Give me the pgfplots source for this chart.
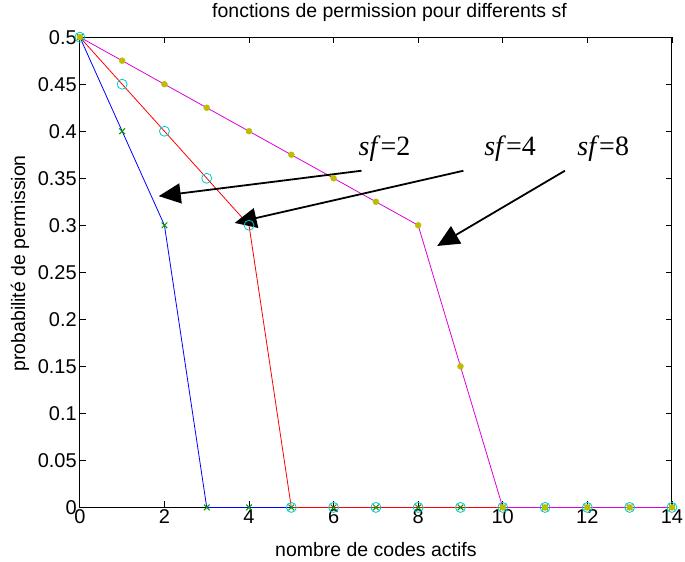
\documentclass[border=0pt]{standalone}
\usepackage{fontspec}
\setmainfont{Liberation Sans}
\newfontfamily\timesfont{Liberation Serif}
\usepackage{pgfplots}
\pgfplotsset{compat=1.18}
\usepackage{pgfplotstable}
\usetikzlibrary{arrows.meta}
\definecolor{mblue}{RGB}{0,0,255}
\definecolor{mred}{RGB}{255,0,0}
\definecolor{mmag}{RGB}{220,0,220}
\definecolor{mcyan}{RGB}{0,200,205}
\definecolor{molive}{RGB}{190,190,0}
\definecolor{mgreen}{RGB}{0,150,0}

\pgfplotstableread{
x y
0 0.5
1 0.4
2 0.3
3 0
4 0
5 0
6 0
7 0
8 0
9 0
10 0
11 0
12 0
13 0
14 0
}\sftwo
\pgfplotstableread{
x y
0 0.5
1 0.45
2 0.4
3 0.35
4 0.3
5 0
6 0
7 0
8 0
9 0
10 0
11 0
12 0
13 0
14 0
}\sffour
\pgfplotstableread{
x y
0 0.5
1 0.475
2 0.45
3 0.425
4 0.4
5 0.375
6 0.35
7 0.325
8 0.3
9 0.15
10 0
11 0
12 0
13 0
14 0
}\sfeight

\begin{document}
\begin{tikzpicture}
\begin{axis}[
  scale only axis, width=593pt, height=471pt,
  xmin=0, xmax=14, ymin=0, ymax=0.5,
  xtick={0,2,4,6,8,10,12,14},
  ytick={0,0.05,0.1,0.15,0.2,0.25,0.3,0.35,0.4,0.45,0.5},
  tick align=inside, tick pos=both,
  major tick length=6pt,
  every tick/.style={black, line width=0.8pt},
  axis line style={line width=1pt},
  /pgf/number format/assume math mode=true,
  tick label style={font=\fontsize{20}{24}\selectfont},
  xticklabel style={inner sep=2pt, font=\fontsize{20}{24}\selectfont},
  yticklabel style={inner sep=3pt, font=\fontsize{20}{24}\selectfont, /pgf/number format/fixed, /pgf/number format/precision=2},
  scaled y ticks=false,
  title={fonctions de permission pour differents sf},
  title style={at={(axis description cs:0.523,1.040)}, anchor=center, font=\fontsize{19.5}{23}\selectfont},
  xlabel={nombre de codes actifs},
  xlabel style={at={(axis description cs:0.5,-0.089)}, anchor=center, font=\fontsize{19.5}{23}\selectfont},
  ylabel={probabilité de permission},
  ylabel style={at={(axis description cs:-0.101,0.519)}, anchor=center, font=\fontsize{19.5}{23}\selectfont},
  clip=false,
]
\addplot[mblue, line width=0.8pt, no marks] table[x=x,y=y]{\sftwo};
\addplot[mred, line width=0.8pt, no marks] table[x=x,y=y]{\sffour};
\addplot[mmag, line width=0.8pt, no marks] table[x=x,y=y]{\sfeight};
\addplot[only marks, mark=x, mark size=4pt, mark options={draw=mgreen, line width=1pt}] table[x=x,y=y]{\sftwo};
\addplot[only marks, mark=o, mark size=5pt, mark options={draw=mcyan, line width=0.8pt}] table[x=x,y=y]{\sffour};
\addplot[only marks, mark=*, mark size=3pt, mark options={fill=molive, draw=molive}] table[x=x,y=y]{\sfeight};

\draw[line width=1.8pt, -{Triangle[length=22pt,width=20pt]}] (axis cs:6.66,0.358) -- (axis cs:1.865,0.331);
\draw[line width=1.8pt, -{Triangle[length=22pt,width=20pt]}] (axis cs:9.07,0.358) -- (axis cs:3.66,0.3025);
\draw[line width=1.8pt, -{Triangle[length=22pt,width=20pt]}] (axis cs:11.47,0.358) -- (axis cs:8.45,0.278);
\node[anchor=base west, inner sep=0pt, font=\timesfont\fontsize{28}{32}\selectfont] at (axis cs:6.59,0.3737) {\textit{sf}=2};
\node[anchor=base west, inner sep=0pt, font=\timesfont\fontsize{28}{32}\selectfont] at (axis cs:9.56,0.3737) {\textit{sf}=4};
\node[anchor=base west, inner sep=0pt, font=\timesfont\fontsize{28}{32}\selectfont] at (axis cs:11.76,0.3737) {\textit{sf}=8};
\end{axis}
\path ([shift={(-80pt,-54pt)}]current axis.south west) rectangle ([shift={(12pt,37pt)}]current axis.north east);
\end{tikzpicture}
\end{document}
